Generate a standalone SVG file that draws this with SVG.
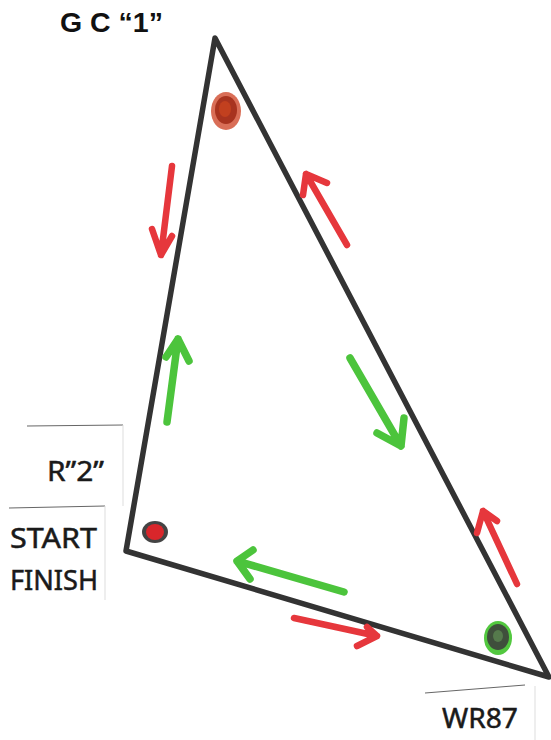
<svg xmlns="http://www.w3.org/2000/svg" width="551" height="740" viewBox="0 0 551 740">
<style>
.lbl{font-family:"Noto Sans","Open Sans","Liberation Sans",sans-serif;fill:#1a1a1a;stroke:#1a1a1a;stroke-width:0.5;font-size:27px}
.ttl{font-family:"Liberation Sans",Arial,sans-serif;font-weight:bold;fill:#111;font-size:27px}
.box{fill:none;stroke:#666;stroke-width:1}
.boxv{fill:none;stroke:#ddd;stroke-width:1}
.edge{fill:none;stroke:#333;stroke-width:5.5;stroke-linecap:round;stroke-linejoin:round}
.ra{fill:none;stroke:#e6373c;stroke-width:6.5;stroke-linecap:round;stroke-linejoin:round}
.ga{fill:none;stroke:#4cc43c;stroke-width:7.5;stroke-linecap:round;stroke-linejoin:round}
</style>
<rect width="551" height="740" fill="#fff"/>
<g id="title"><text class="ttl" x="60" y="32" textLength="103" lengthAdjust="spacingAndGlyphs">G C “1”</text></g>
<g id="label-r2">
<path class="box" d="M27 426 L123 425"/>
<path class="boxv" d="M123 425 L123 506"/>
<text class="lbl" x="47" y="481" textLength="57" lengthAdjust="spacingAndGlyphs">R”2”</text>
</g>
<g id="label-start">
<path class="box" d="M9 508 L105 506"/>
<path class="boxv" d="M105 506 L105 600"/>
<text class="lbl" x="10" y="548" textLength="87" lengthAdjust="spacingAndGlyphs">START</text>
<text class="lbl" x="10" y="590" textLength="88" lengthAdjust="spacingAndGlyphs">FINISH</text>
</g>
<g id="label-wr87">
<path class="box" d="M425 693 L525 685"/>
<path class="boxv" d="M535 686 L535 740"/>
<text class="lbl" x="442" y="728" textLength="76" lengthAdjust="spacingAndGlyphs">WR87</text>
</g>
<g id="connectors">
<path class="edge" d="M215 38 L126 551 L549 677 Z"/>
</g>
<g id="mark-gc1">
<ellipse cx="226" cy="111" rx="15" ry="19" fill="#d2553a" opacity="0.85"/>
<ellipse cx="226" cy="110" rx="11" ry="14" fill="#a8331f"/>
<ellipse cx="225" cy="109" rx="6" ry="8" fill="#c2401f"/>
</g>
<g id="mark-r2">
<ellipse cx="155" cy="532" rx="13" ry="11" fill="#444"/>
<ellipse cx="155" cy="532" rx="9" ry="8" fill="#d9262b"/>
</g>
<g id="mark-wr87">
<ellipse cx="498" cy="638" rx="14" ry="17" fill="#52c83f"/>
<ellipse cx="498" cy="637" rx="11" ry="13" fill="#3f4f3c"/>
<ellipse cx="498" cy="636" rx="5" ry="6" fill="#557a4c"/>
</g>
<g id="arrows">
<path class="ra" d="M172 166 L161 255 M152 229 L161 255 L172 236"/>
<path class="ga" d="M167 422 L178 339 M166 357 L178 339 L189 361"/>
<path class="ra" d="M347 245 L306 174 M303 195 L306 174 L327 183"/>
<path class="ga" d="M350 358 L401 446 M377 433 L401 446 L404 418"/>
<path class="ra" d="M517 584 L483 511 M477 533 L483 511 L497 521"/>
<path class="ga" d="M344 592 L237 561 M253 550 L237 561 L250 579"/>
<path class="ra" d="M294 618 L377 636 M367 627 L377 636 L357 646"/>
</g>
</svg>
